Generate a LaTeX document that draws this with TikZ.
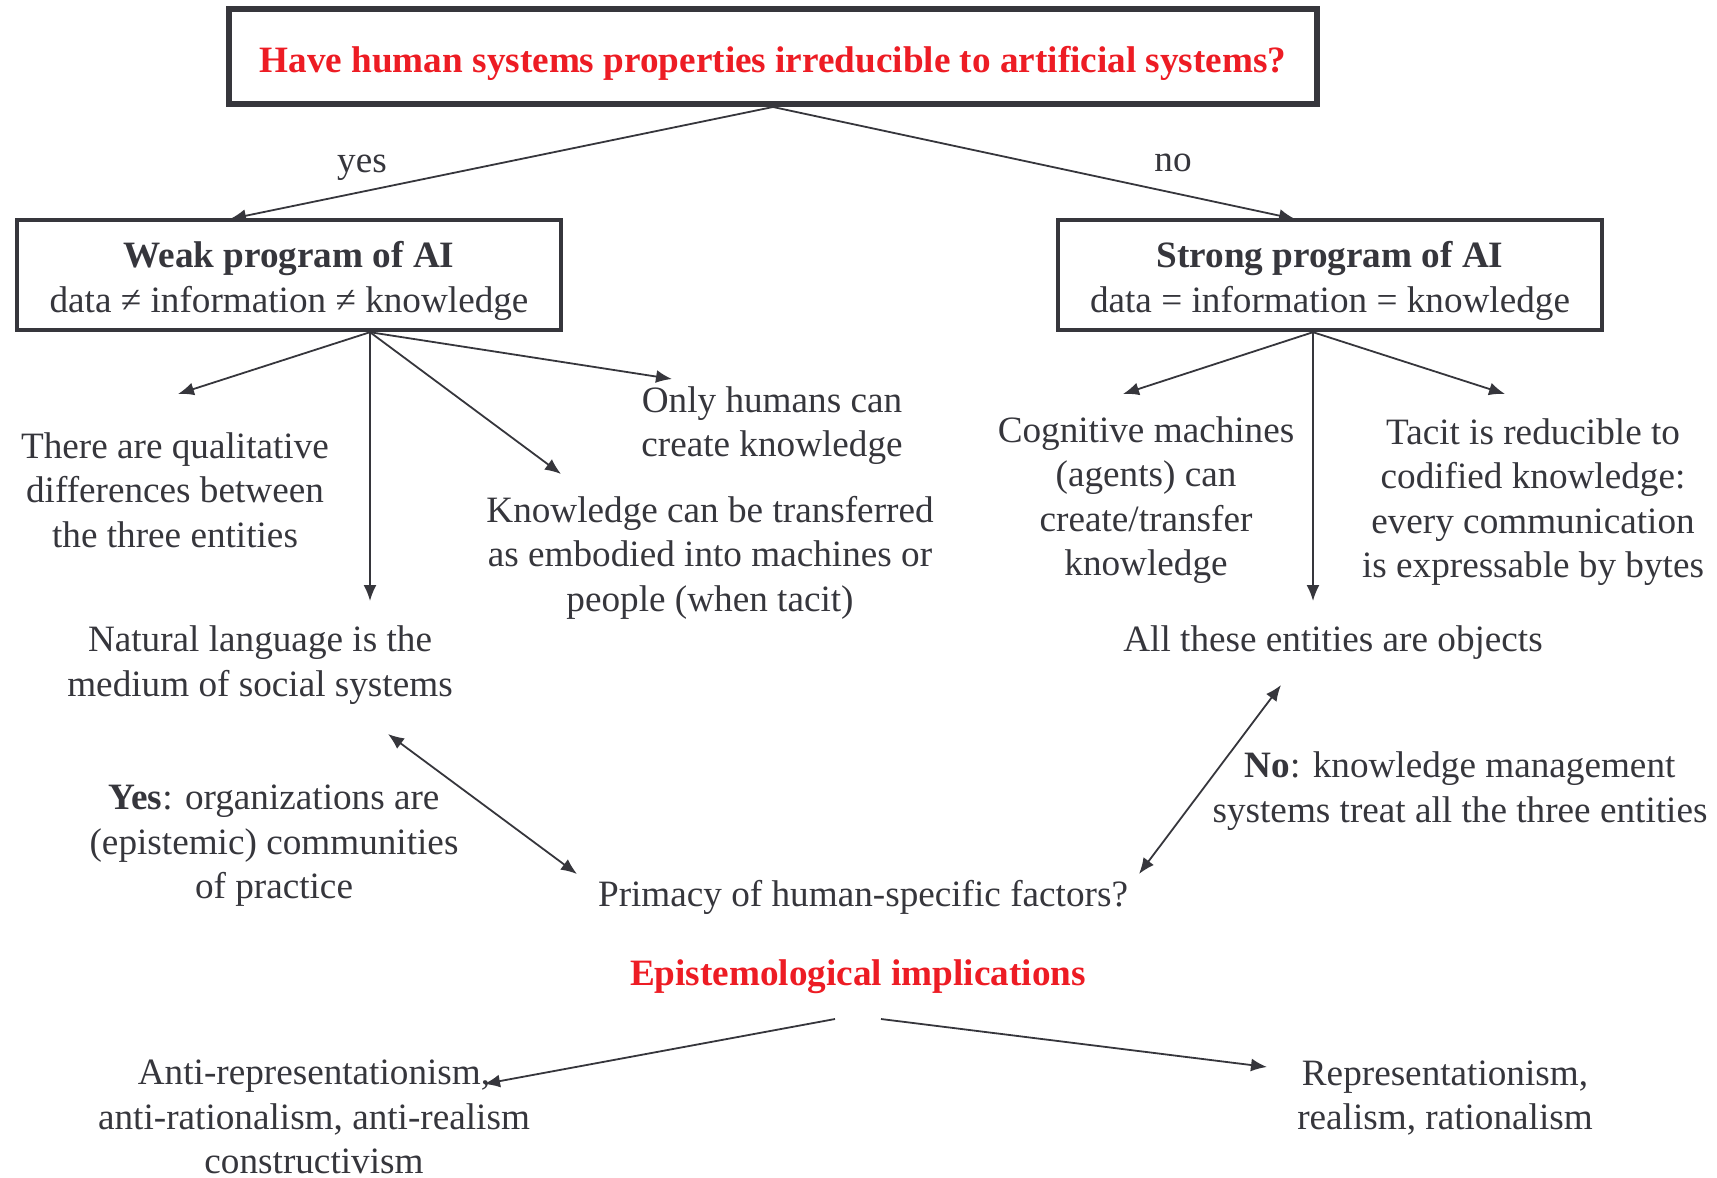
\documentclass[tikz,border=0pt]{standalone}
\usepackage{fontspec}
\setmainfont{Liberation Serif}
\usetikzlibrary{arrows.meta}
\definecolor{ink}{RGB}{54,54,60}
\definecolor{titlered}{RGB}{237,28,36}
\tikzset{
  txt/.style={text=ink, align=center, inner sep=0pt, font=\fontsize{18.6}{22.2}\selectfont},
  hd/.style={txt, text=titlered, font=\fontsize{18.6}{22.2}\selectfont\bfseries},
  frame/.style={draw=ink, inner sep=0pt},
  prog/.style={frame, line width=2.2pt, minimum width=272pt, minimum height=55pt},
  arr/.style={-{Latex[length=8pt,width=6.5pt]}, draw=ink, line width=0.9pt},
  dbl/.style={{Latex[length=8pt,width=6.5pt]}-{Latex[length=8pt,width=6.5pt]}, draw=ink, line width=0.9pt}
}

\begin{document}
\begin{tikzpicture}[x=0.5pt,y=-0.5pt]
    \useasboundingbox (0,0) rectangle (1717,1177);
    %Question
    \node[frame, line width=3pt, minimum width=544pt, minimum height=47.5pt] (question) at (773,56.5) {};
    \node[hd] (question-text) at (773,63) {Have human systems properties irreducible to artificial systems?};
    \node[txt] (yes) at (362,167.5) {yes};
    \node[txt] (no) at (1173,163) {no};
    %Programs
    \node[prog] (weak) at (289,275) {};
    \node[txt] (weak-text) at (289,281) {\textbf{Weak program of AI}\\data ≠ information ≠ knowledge};
    \node[prog] (strong) at (1330,275) {};
    \node[txt] (strong-text) at (1330,281) {\textbf{Strong program of AI}\\data = information = knowledge};
    \coordinate (weak-top) at (230,219);
    \coordinate (strong-top) at (1295,219);
    \draw[arr] (question.south) -- (weak-top);
    \draw[arr] (question.south) -- (strong-top);
    %Weak program
    \node[txt] (qual) at (175,490) {There are qualitative\\differences between\\the three entities};
    \node[txt] (humans) at (772,425.5) {Only humans can\\create knowledge};
    \node[txt] (transf) at (710,557.5) {Knowledge can be transferred\\as embodied into machines or\\people (when tacit)};
    \node[txt] (natural) at (260,665) {Natural language is the\\medium of social systems};
    \coordinate (weak-hub) at ([xshift=40.5pt]weak.south);
    \coordinate (qual-in) at (178,394);
    \coordinate (natural-in) at (370,601);
    \coordinate (transf-in) at (561,474);
    \coordinate (humans-in) at (672,379);
    \draw[arr] (weak-hub) -- (qual-in);
    \draw[arr] (weak-hub) -- (natural-in);
    \draw[arr] (weak-hub) -- (transf-in);
    \draw[arr] (weak-hub) -- (humans-in);
    %Strong program
    \node[txt] (cogn) at (1146,500) {Cognitive machines\\(agents) can\\create/transfer\\knowledge};
    \node[txt] (tacit) at (1533,502) {Tacit is reducible to\\codified knowledge:\\every communication\\is expressable by bytes};
    \node[txt] (objects) at (1333,643) {All these entities are objects};
    \coordinate (strong-hub) at ([xshift=-8.5pt]strong.south);
    \coordinate (cogn-in) at (1123,394);
    \coordinate (objects-in) at (1313,601);
    \coordinate (tacit-in) at (1505,394);
    \draw[arr] (strong-hub) -- (cogn-in);
    \draw[arr] (strong-hub) -- (objects-in);
    \draw[arr] (strong-hub) -- (tacit-in);
    %Primacy
    \node[txt] (primacy) at (863,897) {Primacy of human-specific factors?};
    \node[txt] (yesorg) at (274,846) {\textbf{Yes}: organizations are\\(epistemic) communities\\of practice};
    \node[txt] (nokm) at (1460,791) {\textbf{No}: knowledge management\\systems treat all the three entities};
    \coordinate (natural-out) at (388,734);
    \coordinate (primacy-left) at (577,874);
    \coordinate (objects-out) at (1281,685);
    \coordinate (primacy-right) at (1139,874);
    \draw[dbl] (natural-out) -- (primacy-left);
    \draw[dbl] (objects-out) -- (primacy-right);
    %Implications
    \node[hd] (epist) at (858,977) {Epistemological implications};
    \node[txt] (anti) at (314,1117) {Anti-representationism,\\anti-rationalism, anti-realism\\constructivism};
    \node[txt] (repr) at (1445,1098) {Representationism,\\realism, rationalism};
    \coordinate (epist-left) at (835,1019);
    \coordinate (epist-right) at (881,1019);
    \coordinate (anti-in) at (484,1084);
    \coordinate (repr-in) at (1267,1067);
    \draw[arr] (epist-left) -- (anti-in);
    \draw[arr] (epist-right) -- (repr-in);
\end{tikzpicture}
\end{document}
